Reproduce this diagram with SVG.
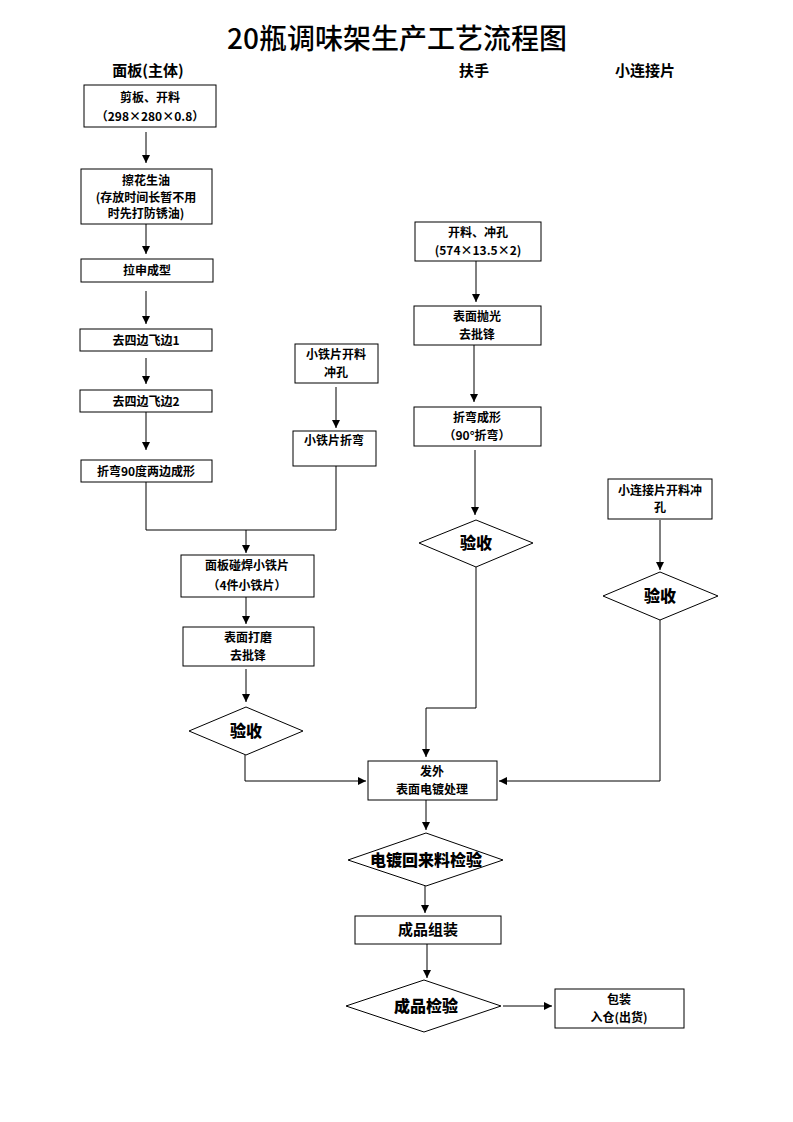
<svg xmlns="http://www.w3.org/2000/svg" width="793" height="1122" viewBox="0 0 793 1122">
<style>
text{font-family:"Noto Sans CJK SC","Liberation Serif",sans-serif;fill:#000;text-anchor:middle;dominant-baseline:central}
.t{font-size:12px;font-weight:bold}
.h{font-size:15px;font-weight:bold}
.d{font-size:16px;font-weight:900}
.b{fill:#fff;stroke:#000;stroke-width:1}
.c{fill:none;stroke:#000;stroke-width:1}
</style>
<defs>
<marker id="a" viewBox="0 0 10 10" refX="10" refY="5" markerWidth="8" markerHeight="8" markerUnits="userSpaceOnUse" orient="auto">
<path d="M0,0L10,5L0,10z" fill="#000"/>
</marker>
</defs>
<rect width="793" height="1122" fill="#fff"/>
<text x="397" y="37" style="font-size:28px;font-weight:500">20瓶调味架生产工艺流程图</text>
<text x="148" y="69" class="h">面板(主体)</text>
<text x="474" y="69" class="h">扶手</text>
<text x="645" y="69" class="h">小连接片</text>

<g id="connectors" class="c">
<path d="M146,132V163" marker-end="url(#a)"/>
<path d="M146,224V254" marker-end="url(#a)"/>
<path d="M146,291V324" marker-end="url(#a)"/>
<path d="M146,358V384" marker-end="url(#a)"/>
<path d="M146,412V450" marker-end="url(#a)"/>
<path d="M146,482V530H336V466"/>
<path d="M336,387V428" marker-end="url(#a)"/>
<path d="M246,530V553" marker-end="url(#a)"/>
<path d="M246,597V624" marker-end="url(#a)"/>
<path d="M246,669V702" marker-end="url(#a)"/>
<path d="M245,755V781H366" marker-end="url(#a)"/>
<path d="M476,261V302" marker-end="url(#a)"/>
<path d="M474,345V402" marker-end="url(#a)"/>
<path d="M475,450V515" marker-end="url(#a)"/>
<path d="M476,567V708H426V757" marker-end="url(#a)"/>
<path d="M660,520V570" marker-end="url(#a)"/>
<path d="M660,620V781H499" marker-end="url(#a)"/>
<path d="M426,800V830" marker-end="url(#a)"/>
<path d="M425,886V913" marker-end="url(#a)"/>
<path d="M427,944V978" marker-end="url(#a)"/>
<path d="M503,1006H552" marker-end="url(#a)"/>
</g>

<g id="n1"><rect class="b" x="84" y="85" width="132" height="42"/><text class="t" x="150" y="96">剪板、开料</text><text class="t" x="150" y="115">（298×280×0.8）</text></g>
<g id="n2"><rect class="b" x="81" y="169" width="131" height="55"/><text class="t" x="146" y="179">擦花生油</text><text class="t" x="146" y="196">(存放时间长暂不用</text><text class="t" x="146" y="212">时先打防锈油)</text></g>
<g id="n3"><rect class="b" x="81" y="259" width="132" height="23"/><text class="t" x="147" y="269">拉申成型</text></g>
<g id="n4"><rect class="b" x="80" y="329" width="132" height="22"/><text class="t" x="146" y="339">去四边飞边1</text></g>
<g id="n5"><rect class="b" x="80" y="390" width="132" height="22"/><text class="t" x="146" y="400">去四边飞边2</text></g>
<g id="n6"><rect class="b" x="81" y="460" width="131" height="22"/><text class="t" x="146" y="470">折弯90度两边成形</text></g>
<g id="n7"><rect class="b" x="295" y="344" width="83" height="39"/><text class="t" x="336" y="353">小铁片开料</text><text class="t" x="336" y="371">冲孔</text></g>
<g id="n8"><rect class="b" x="293" y="431" width="83" height="35"/><text class="t" x="334" y="439">小铁片折弯</text></g>
<g id="n9"><rect class="b" x="181" y="555" width="133" height="42"/><text class="t" x="247" y="564">面板碰焊小铁片</text><text class="t" x="247" y="584">（4件小铁片）</text></g>
<g id="n10"><rect class="b" x="183" y="627" width="131" height="39"/><text class="t" x="248" y="636">表面打磨</text><text class="t" x="248" y="654">去批锋</text></g>
<g id="n11"><path class="b" d="M189,731L246,707L303,731L246,755Z"/><text class="d" x="246" y="730">验收</text></g>
<g id="n12"><rect class="b" x="415" y="222" width="126" height="39"/><text class="t" x="478" y="231">开料、冲孔</text><text class="t" x="478" y="249">(574×13.5×2)</text></g>
<g id="n13"><rect class="b" x="414" y="306" width="127" height="39"/><text class="t" x="477" y="315">表面抛光</text><text class="t" x="477" y="333">去批锋</text></g>
<g id="n14"><rect class="b" x="414" y="407" width="127" height="39"/><text class="t" x="477" y="416">折弯成形</text><text class="t" x="477" y="434">（90°折弯）</text></g>
<g id="n15"><path class="b" d="M419,543L476,520L533,543L476,567Z"/><text class="d" x="476" y="542">验收</text></g>
<g id="n16"><rect class="b" x="608" y="479" width="104" height="40"/><text class="t" x="660" y="489">小连接片开料冲</text><text class="t" x="660" y="506">孔</text></g>
<g id="n17"><path class="b" d="M603,596L660,572L718,596L660,620Z"/><text class="d" x="660" y="595">验收</text></g>
<g id="n18"><rect class="b" x="368" y="761" width="129" height="39"/><text class="t" x="432" y="770">发外</text><text class="t" x="432" y="788">表面电镀处理</text></g>
<g id="n19"><path class="b" d="M348,860L426,833L503,860L426,886Z"/><text class="d" x="426" y="859">电镀回来料检验</text></g>
<g id="n20"><rect class="b" x="355" y="916" width="146" height="28"/><text class="h" x="428" y="928">成品组装</text></g>
<g id="n21"><path class="b" d="M346,1006L424,980L501,1006L424,1032Z"/><text class="d" x="426" y="1005">成品检验</text></g>
<g id="n22"><rect class="b" x="555" y="989" width="129" height="39"/><text class="t" x="619" y="998">包装</text><text class="t" x="619" y="1016">入仓(出货)</text></g>
</svg>
